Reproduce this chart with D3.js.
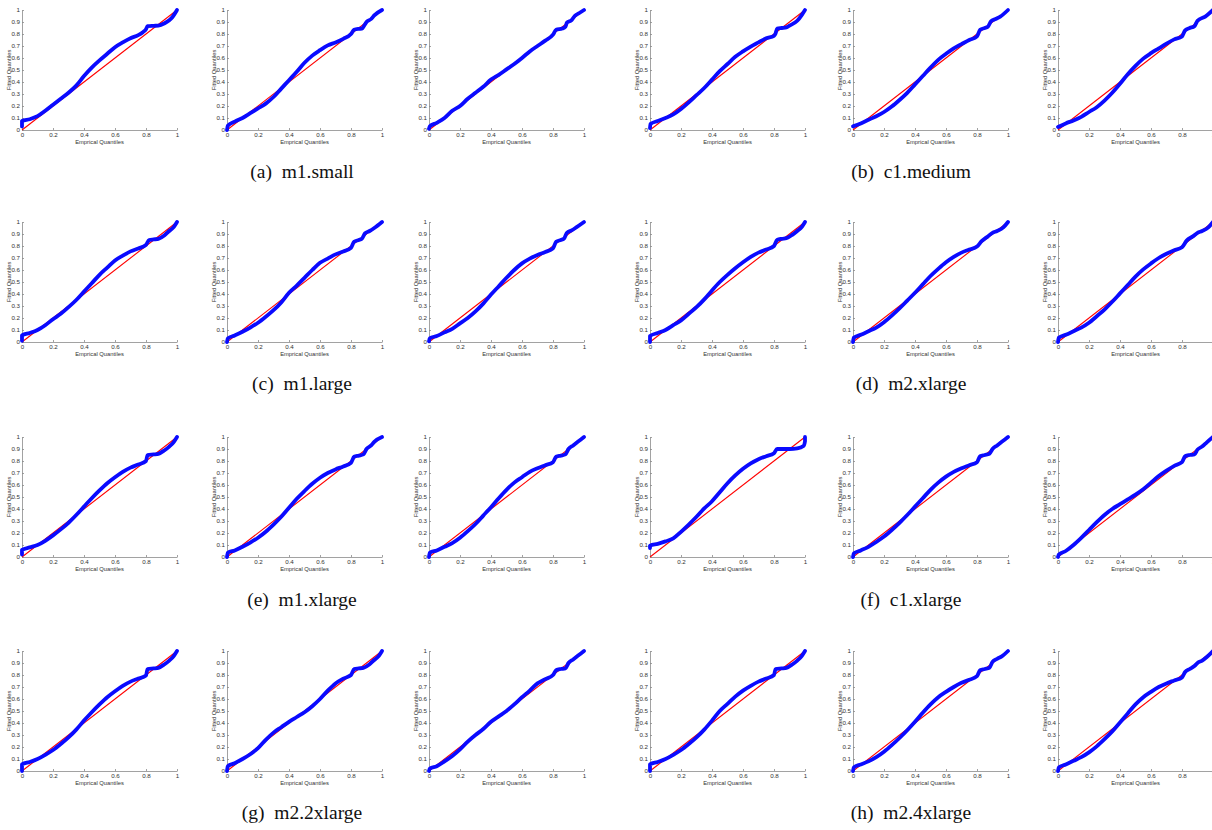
<!DOCTYPE html>
<html>
<head>
<meta charset="utf-8">
<script src="https://cdn.jsdelivr.net/npm/d3@7"></script>
<style>
  html, body { margin: 0; padding: 0; background: #fff; }
  svg { display: block; }
</style>
</head>
<body>
<svg id="chart" width="1212" height="830"></svg>
<script>
// ---------------- DATA ----------------
const captions = ["(a)  m1.small", "(b)  c1.medium", "(c)  m1.large", "(d)  m2.xlarge",
                  "(e)  m1.xlarge", "(f)  c1.xlarge", "(g)  m2.2xlarge", "(h)  m2.4xlarge"];
const xTicks = [0, 0.2, 0.4, 0.6, 0.8, 1];
const yTicks = [0, 0.1, 0.2, 0.3, 0.4, 0.5, 0.6, 0.7, 0.8, 0.9, 1];
const xLabel = "Emprical Quantiles";
const yLabel = "Fitted Quantiles";
const refLine = [[0, 0], [1, 1]];

// each series: [empirical, fitted] quantile pairs
const m1small = [
  [[0,0.03],[0,0.075],[0.05,0.09],[0.1,0.115],[0.15,0.16],[0.2,0.21],[0.25,0.26],[0.3,0.31],[0.35,0.37],[0.4,0.45],[0.45,0.52],[0.5,0.58],[0.55,0.635],[0.6,0.69],[0.65,0.73],[0.7,0.765],[0.75,0.79],[0.78,0.815],[0.8,0.84],[0.81,0.865],[0.85,0.868],[0.88,0.87],[0.92,0.89],[0.95,0.915],[0.97,0.94],[1,1]],
  [[0,0],[0.005,0.035],[0.05,0.07],[0.1,0.1],[0.15,0.14],[0.2,0.18],[0.25,0.22],[0.3,0.275],[0.35,0.345],[0.4,0.415],[0.45,0.485],[0.5,0.56],[0.55,0.62],[0.6,0.665],[0.65,0.705],[0.7,0.73],[0.75,0.76],[0.8,0.8],[0.82,0.835],[0.85,0.843],[0.87,0.845],[0.885,0.87],[0.9,0.9],[0.93,0.925],[0.95,0.955],[1,1]],
  [[0,0.01],[0.005,0.03],[0.05,0.06],[0.1,0.1],[0.15,0.16],[0.2,0.2],[0.25,0.26],[0.3,0.31],[0.35,0.36],[0.4,0.42],[0.45,0.46],[0.5,0.505],[0.55,0.55],[0.6,0.6],[0.65,0.655],[0.7,0.7],[0.75,0.745],[0.8,0.795],[0.82,0.835],[0.86,0.845],[0.88,0.86],[0.89,0.895],[0.92,0.915],[0.94,0.95],[0.97,0.975],[1,1]]
];
const c1medium = [
  [[0,0.015],[0.003,0.05],[0.05,0.075],[0.1,0.1],[0.15,0.13],[0.2,0.175],[0.25,0.23],[0.3,0.29],[0.35,0.35],[0.4,0.42],[0.45,0.49],[0.5,0.55],[0.55,0.61],[0.6,0.655],[0.65,0.695],[0.7,0.73],[0.75,0.765],[0.8,0.785],[0.81,0.805],[0.82,0.845],[0.85,0.85],[0.88,0.855],[0.9,0.87],[0.95,0.91],[0.98,0.96],[1,1]],
  [[0,0.03],[0.05,0.055],[0.1,0.085],[0.15,0.115],[0.2,0.15],[0.25,0.195],[0.3,0.25],[0.35,0.31],[0.4,0.38],[0.45,0.45],[0.5,0.52],[0.55,0.585],[0.6,0.635],[0.65,0.68],[0.7,0.715],[0.75,0.75],[0.8,0.78],[0.82,0.835],[0.85,0.85],[0.87,0.86],[0.89,0.905],[0.92,0.925],[0.95,0.945],[1,1]],
  [[0,0.025],[0.05,0.055],[0.1,0.08],[0.15,0.11],[0.2,0.15],[0.25,0.19],[0.3,0.245],[0.35,0.31],[0.4,0.385],[0.45,0.465],[0.5,0.535],[0.55,0.595],[0.6,0.64],[0.65,0.68],[0.7,0.72],[0.75,0.755],[0.8,0.78],[0.82,0.83],[0.85,0.85],[0.88,0.865],[0.9,0.91],[0.95,0.945],[1,1]]
];
const m1large = [
  [[0,0.01],[0,0.055],[0.05,0.075],[0.1,0.1],[0.15,0.14],[0.2,0.19],[0.25,0.235],[0.3,0.29],[0.35,0.35],[0.4,0.42],[0.45,0.49],[0.5,0.56],[0.55,0.62],[0.6,0.68],[0.65,0.72],[0.7,0.755],[0.75,0.78],[0.8,0.81],[0.82,0.85],[0.85,0.855],[0.88,0.86],[0.92,0.89],[0.95,0.925],[0.98,0.96],[1,1]],
  [[0,0],[0.005,0.03],[0.05,0.055],[0.1,0.085],[0.15,0.12],[0.2,0.16],[0.25,0.21],[0.3,0.265],[0.35,0.33],[0.4,0.41],[0.45,0.47],[0.5,0.535],[0.55,0.6],[0.6,0.66],[0.65,0.695],[0.7,0.73],[0.75,0.755],[0.8,0.785],[0.82,0.835],[0.85,0.85],[0.87,0.86],[0.89,0.905],[0.92,0.925],[0.95,0.95],[1,1]],
  [[0,0.005],[0.005,0.03],[0.05,0.05],[0.1,0.08],[0.15,0.11],[0.2,0.155],[0.25,0.2],[0.3,0.255],[0.35,0.32],[0.4,0.395],[0.45,0.465],[0.5,0.535],[0.55,0.6],[0.6,0.655],[0.65,0.695],[0.7,0.725],[0.75,0.75],[0.8,0.78],[0.82,0.835],[0.85,0.85],[0.87,0.86],[0.89,0.91],[0.92,0.93],[0.95,0.955],[1,1]]
];
const m2xlarge = [
  [[0,0],[0,0.05],[0.05,0.075],[0.1,0.1],[0.15,0.14],[0.2,0.18],[0.25,0.235],[0.3,0.29],[0.35,0.355],[0.4,0.43],[0.45,0.5],[0.5,0.56],[0.55,0.615],[0.6,0.665],[0.65,0.71],[0.7,0.745],[0.75,0.77],[0.8,0.8],[0.82,0.85],[0.85,0.86],[0.88,0.865],[0.92,0.895],[0.95,0.925],[0.98,0.96],[1,1]],
  [[0,0],[0.005,0.035],[0.05,0.06],[0.1,0.09],[0.15,0.12],[0.2,0.165],[0.25,0.22],[0.3,0.28],[0.35,0.345],[0.4,0.41],[0.45,0.48],[0.5,0.55],[0.55,0.61],[0.6,0.665],[0.65,0.71],[0.7,0.745],[0.75,0.77],[0.8,0.795],[0.83,0.84],[0.87,0.88],[0.9,0.91],[0.93,0.925],[0.97,0.955],[1,1]],
  [[0,0],[0.005,0.035],[0.05,0.06],[0.1,0.09],[0.15,0.12],[0.2,0.16],[0.25,0.215],[0.3,0.27],[0.35,0.335],[0.4,0.405],[0.45,0.475],[0.5,0.545],[0.55,0.605],[0.6,0.655],[0.65,0.7],[0.7,0.735],[0.75,0.765],[0.8,0.79],[0.83,0.845],[0.87,0.88],[0.9,0.91],[0.93,0.925],[0.97,0.955],[1,1]]
];
const m1xlarge = [
  [[0,0.02],[0,0.06],[0.05,0.08],[0.1,0.1],[0.15,0.135],[0.2,0.18],[0.25,0.23],[0.3,0.285],[0.35,0.35],[0.4,0.42],[0.45,0.49],[0.5,0.555],[0.55,0.615],[0.6,0.665],[0.65,0.71],[0.7,0.745],[0.75,0.77],[0.8,0.8],[0.81,0.85],[0.85,0.855],[0.88,0.86],[0.92,0.89],[0.95,0.92],[0.98,0.96],[1,1]],
  [[0,0],[0.005,0.035],[0.05,0.055],[0.1,0.085],[0.15,0.12],[0.2,0.16],[0.25,0.21],[0.3,0.27],[0.35,0.335],[0.4,0.41],[0.45,0.485],[0.5,0.55],[0.55,0.61],[0.6,0.66],[0.65,0.7],[0.7,0.73],[0.75,0.755],[0.8,0.785],[0.82,0.835],[0.85,0.845],[0.88,0.855],[0.9,0.9],[0.93,0.93],[0.95,0.96],[1,1]],
  [[0,0],[0.005,0.035],[0.05,0.055],[0.1,0.085],[0.15,0.115],[0.2,0.16],[0.25,0.215],[0.3,0.275],[0.35,0.345],[0.4,0.415],[0.45,0.49],[0.5,0.56],[0.55,0.62],[0.6,0.665],[0.65,0.71],[0.7,0.74],[0.75,0.765],[0.8,0.79],[0.82,0.835],[0.85,0.845],[0.88,0.855],[0.9,0.9],[0.93,0.93],[0.96,0.96],[1,1]]
];
const c1xlarge = [
  [[0,0.075],[0,0.095],[0.05,0.11],[0.1,0.13],[0.15,0.155],[0.2,0.21],[0.25,0.27],[0.3,0.335],[0.35,0.405],[0.4,0.465],[0.45,0.54],[0.5,0.615],[0.55,0.68],[0.6,0.735],[0.65,0.78],[0.7,0.815],[0.75,0.84],[0.8,0.865],[0.82,0.9],[0.85,0.9],[0.9,0.9],[0.95,0.905],[0.99,0.925],[1,0.965],[1,1]],
  [[0,0],[0.005,0.03],[0.05,0.055],[0.1,0.085],[0.15,0.125],[0.2,0.17],[0.25,0.225],[0.3,0.285],[0.35,0.35],[0.4,0.42],[0.45,0.49],[0.5,0.56],[0.55,0.62],[0.6,0.67],[0.65,0.71],[0.7,0.74],[0.75,0.765],[0.8,0.79],[0.82,0.84],[0.85,0.85],[0.88,0.86],[0.9,0.9],[0.93,0.93],[0.96,0.96],[1,1]],
  [[0,0],[0.005,0.02],[0.05,0.05],[0.1,0.1],[0.15,0.16],[0.2,0.225],[0.25,0.29],[0.3,0.35],[0.35,0.4],[0.4,0.44],[0.45,0.48],[0.5,0.52],[0.55,0.565],[0.6,0.62],[0.65,0.675],[0.7,0.72],[0.75,0.76],[0.8,0.79],[0.82,0.84],[0.85,0.85],[0.88,0.855],[0.9,0.895],[0.93,0.92],[0.96,0.955],[1,1]]
];
const m22xlarge = [
  [[0,0],[0,0.055],[0.05,0.075],[0.1,0.1],[0.15,0.135],[0.2,0.175],[0.25,0.225],[0.3,0.28],[0.35,0.345],[0.4,0.42],[0.45,0.49],[0.5,0.555],[0.55,0.615],[0.6,0.665],[0.65,0.71],[0.7,0.745],[0.75,0.77],[0.8,0.795],[0.81,0.85],[0.85,0.855],[0.88,0.86],[0.92,0.89],[0.95,0.92],[0.98,0.96],[1,1]],
  [[0,0],[0.005,0.04],[0.05,0.065],[0.1,0.1],[0.15,0.14],[0.2,0.19],[0.25,0.26],[0.3,0.32],[0.35,0.365],[0.4,0.41],[0.45,0.45],[0.5,0.49],[0.55,0.54],[0.6,0.6],[0.65,0.67],[0.7,0.73],[0.75,0.77],[0.8,0.8],[0.82,0.85],[0.85,0.855],[0.88,0.86],[0.92,0.89],[0.95,0.925],[0.98,0.96],[1,1]],
  [[0,0],[0.005,0.02],[0.05,0.04],[0.1,0.08],[0.15,0.125],[0.2,0.18],[0.25,0.245],[0.3,0.3],[0.35,0.35],[0.4,0.41],[0.45,0.455],[0.5,0.5],[0.55,0.555],[0.6,0.615],[0.65,0.67],[0.7,0.73],[0.75,0.765],[0.8,0.8],[0.82,0.84],[0.85,0.85],[0.88,0.855],[0.9,0.9],[0.93,0.93],[0.96,0.96],[1,1]]
];
const m24xlarge = [
  [[0,0],[0,0.055],[0.05,0.075],[0.1,0.1],[0.15,0.135],[0.2,0.175],[0.25,0.225],[0.3,0.28],[0.35,0.345],[0.4,0.42],[0.45,0.5],[0.5,0.56],[0.55,0.62],[0.6,0.67],[0.65,0.71],[0.7,0.745],[0.75,0.77],[0.8,0.8],[0.81,0.85],[0.85,0.855],[0.88,0.86],[0.92,0.89],[0.95,0.92],[0.98,0.96],[1,1]],
  [[0,0],[0.005,0.03],[0.05,0.055],[0.1,0.08],[0.15,0.115],[0.2,0.16],[0.25,0.215],[0.3,0.275],[0.35,0.34],[0.4,0.41],[0.45,0.485],[0.5,0.555],[0.55,0.615],[0.6,0.66],[0.65,0.7],[0.7,0.735],[0.75,0.76],[0.8,0.79],[0.82,0.84],[0.85,0.85],[0.88,0.86],[0.9,0.91],[0.93,0.935],[0.96,0.955],[1,1]],
  [[0,0],[0.005,0.03],[0.05,0.055],[0.1,0.085],[0.15,0.115],[0.2,0.155],[0.25,0.205],[0.3,0.265],[0.35,0.33],[0.4,0.405],[0.45,0.48],[0.5,0.555],[0.55,0.615],[0.6,0.66],[0.65,0.7],[0.7,0.73],[0.75,0.755],[0.8,0.78],[0.82,0.825],[0.85,0.85],[0.88,0.875],[0.9,0.9],[0.93,0.92],[0.96,0.95],[1,1]]
];
const groups = [m1small, c1medium, m1large, m2xlarge, m1xlarge, c1xlarge, m22xlarge, m24xlarge];

// ---------------- LAYOUT ----------------
const colX = [22, 227, 429, 650, 853, 1058];
const rowTop = [10, 222, 437, 651];
const plotW = 155, plotH = 120;
const captionCX = [302, 911];
const captionBaseline = [178, 390, 606, 819];

const svg = d3.select("#chart");
const fmt = d3.format("~g");

groups.forEach((group, gi) => {
  const row = Math.floor(gi / 2), half = gi % 2;
  group.forEach((series, si) => {
    const col = half * 3 + si;
    const x0 = colX[col], y0 = rowTop[row];
    const x = d3.scaleLinear().domain([0, 1]).range([x0, x0 + plotW]);
    const y = d3.scaleLinear().domain([0, 1]).range([y0 + plotH, y0]);
    const g = svg.append("g");

    // axes
    const xa = g.append("g").attr("transform", `translate(0,${y0 + plotH})`)
      .call(d3.axisBottom(x).tickValues(xTicks).tickFormat(fmt).tickSizeInner(-2).tickSizeOuter(0).tickPadding(3));
    const ya = g.append("g").attr("transform", `translate(${x0},0)`)
      .call(d3.axisLeft(y).tickValues(yTicks).tickFormat(fmt).tickSizeInner(-2).tickSizeOuter(0).tickPadding(2));
    [xa, ya].forEach(a => {
      a.select(".domain").attr("stroke", "#8a8a8a").attr("stroke-width", 0.8);
      a.selectAll(".tick line").attr("stroke", "#8a8a8a").attr("stroke-width", 0.8);
      a.selectAll(".tick text").attr("fill", "#333").attr("font-size", 6.2)
        .attr("font-family", "Liberation Sans, Arial, sans-serif");
    });

    // labels
    g.append("text").attr("x", x0 + plotW / 2).attr("y", y0 + plotH + 14)
      .attr("text-anchor", "middle").attr("font-size", 5.8).attr("fill", "#333")
      .attr("font-family", "Liberation Sans, Arial, sans-serif").text(xLabel);
    g.append("text").attr("transform", `translate(${x0 - 11},${y0 + plotH / 2}) rotate(-90)`)
      .attr("text-anchor", "middle").attr("font-size", 5.8).attr("fill", "#333")
      .attr("font-family", "Liberation Sans, Arial, sans-serif").text(yLabel);

    const line = d3.line().x(d => x(d[0])).y(d => y(d[1]));
    // reference line
    g.append("path").datum(refLine).attr("d", line)
      .attr("fill", "none").attr("stroke", "#ff0000").attr("stroke-width", 1.1);
    // fitted quantiles
    g.append("path").datum(series).attr("d", line.curve(d3.curveMonotoneX))
      .attr("fill", "none").attr("stroke", "#0a0aff").attr("stroke-width", 3.8)
      .attr("stroke-linecap", "round").attr("stroke-linejoin", "round");
  });

  svg.append("text").attr("x", captionCX[half]).attr("y", captionBaseline[row])
    .attr("text-anchor", "middle").attr("font-size", 19.5).attr("fill", "#111")
    .attr("font-family", "Liberation Serif, Times New Roman, serif")
    .attr("xml:space", "preserve").style("white-space", "pre")
    .text(captions[gi]);
});
</script>
</body>
</html>
